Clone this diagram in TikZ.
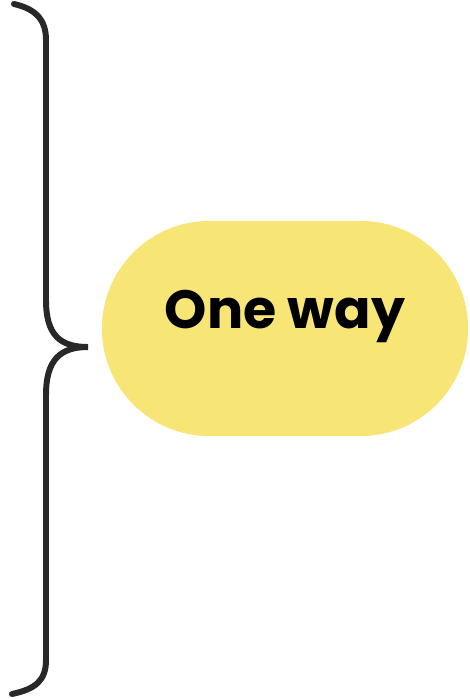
\documentclass[tikz,border=0pt]{standalone}
\usepackage{fontspec}
\setmainfont{Poppins}[BoldFont={* Bold}]
\usepackage{tikz}
\usetikzlibrary{positioning}
\usepackage{xcolor}
\definecolor{pillyellow}{RGB}{247,229,117}
\definecolor{braceink}{RGB}{40,40,40}

\begin{document}
\begin{tikzpicture}[x=0.01cm,y=-0.01cm,
  pill/.style={rectangle,rounded corners=1.075cm,fill=pillyellow,minimum width=3.66cm,minimum height=2.15cm,text height=0.4cm,text depth=0.4cm,font=\fontsize{15.3pt}{15.3pt}\selectfont\bfseries},
  brace/.style={draw=braceink,line width=1.7pt,line cap=round}]
\useasboundingbox (0,0) rectangle (469,699);
\node[pill] (way) at (285,328.5) {One way};
\coordinate (tip) at (88,347);
\draw[brace] (14,4) .. controls (36,9) and (46,20) .. (46,40) -- (46,300)
  .. controls (46,335) and (60,347) .. (tip)
  .. controls (60,347) and (46,360) .. (46,395) -- (46,660)
  .. controls (46,680) and (36,689) .. (12,694);
\end{tikzpicture}
\end{document}
